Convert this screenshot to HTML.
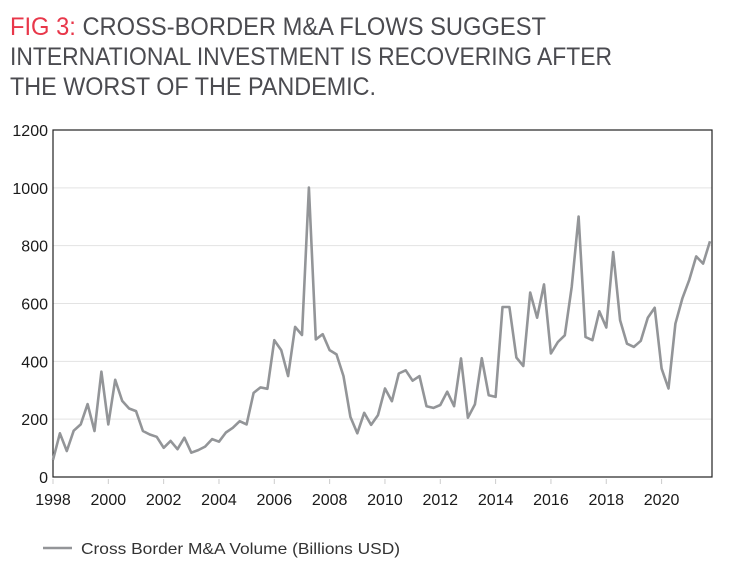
<!DOCTYPE html>
<html><head><meta charset="utf-8"><style>
html,body{margin:0;padding:0;background:#fff;width:744px;height:570px;overflow:hidden}
svg{display:block;font-family:"Liberation Sans",sans-serif}
</style></head><body>
<svg id="chart" width="744" height="570" viewBox="0 0 744 570">
<g font-size="25" fill="#4b4b50">
<text x="10" y="35" textLength="536" lengthAdjust="spacingAndGlyphs"><tspan fill="#e8374a">FIG 3:</tspan> CROSS-BORDER M&amp;A FLOWS SUGGEST</text>
<text x="10" y="65" textLength="602" lengthAdjust="spacingAndGlyphs">INTERNATIONAL INVESTMENT IS RECOVERING AFTER</text>
<text x="10" y="95" textLength="366" lengthAdjust="spacingAndGlyphs">THE WORST OF THE PANDEMIC.</text>
</g>
<g id="grid"></g>
<g id="yaxis"></g>
<g id="xaxis"></g>
<rect x="53" y="130" width="659" height="347" fill="none" stroke="#222" stroke-width="1.2"/>
<path id="line" fill="none" stroke="#939598" stroke-width="2.6" stroke-linejoin="round"/>
<g>
<line x1="43" y1="548" x2="72" y2="548" stroke="#939598" stroke-width="2.6"/>
<text x="81" y="554" font-size="16" fill="#333" textLength="319" lengthAdjust="spacingAndGlyphs">Cross Border M&amp;A Volume (Billions USD)</text>
</g>
</svg>
<script>
const values = [59,151,90,160,182,252,159,364,182,336,263,237,228,159,147,139,101,125,96,136,84,93,105,131,122,154,170,193,182,291,310,305,473,439,349,519,491,1001,476,494,439,424,349,208,151,222,180,214,306,262,358,369,333,349,245,239,249,295,245,410,205,251,411,283,277,588,588,413,384,638,551,666,427,467,490,657,901,484,473,573,517,778,542,461,450,471,551,585,375,306,530,617,682,763,738,815];
const yTicks = [0,200,400,600,800,1000,1200];
const xTickLabels = ["1998","2000","2002","2004","2006","2008","2010","2012","2014","2016","2018","2020"];
const startYear = 1998;

const L=53,R=710,T=130,B=477;
const NS="http://www.w3.org/2000/svg";
function x(i){return L+i*(R-L)/(values.length-1);}
function y(v){return B-(v/1200)*(B-T);}
const grid=document.getElementById('grid'),ya=document.getElementById('yaxis'),xa=document.getElementById('xaxis');
yTicks.forEach(t=>{
  if(t>0&&t<1200){const g=document.createElementNS(NS,'line');
  
  
  g.setAttribute('x1',L);g.setAttribute('x2',712);g.setAttribute('y1',y(t));g.setAttribute('y2',y(t));
  g.setAttribute('stroke','#e3e3e3');g.setAttribute('stroke-width','1');grid.appendChild(g);}
  const tx=document.createElementNS(NS,'text');
  
  
  tx.setAttribute('x',48);tx.setAttribute('y',y(t)+6);tx.setAttribute('text-anchor','end');
  tx.setAttribute('font-size','16');tx.setAttribute('fill','#1a1a1a');tx.textContent=t;ya.appendChild(tx);
});
xTickLabels.forEach(lab=>{
  const i=(parseInt(lab)-startYear)*4;const xx=x(i);
  const tk=document.createElementNS(NS,'line');
  
  
  tk.setAttribute('x1',xx);tk.setAttribute('x2',xx);tk.setAttribute('y1',B+2);tk.setAttribute('y2',B+7);
  tk.setAttribute('stroke','#ccc');xa.appendChild(tk);
  const tx=document.createElementNS(NS,'text');
  
  
  tx.setAttribute('x',xx);tx.setAttribute('y',505);tx.setAttribute('text-anchor','middle');
  tx.setAttribute('font-size','16');tx.setAttribute('fill','#1a1a1a');tx.textContent=lab;xa.appendChild(tx);
});
document.getElementById('line').setAttribute('d',values.map((v,i)=>(i?'L':'M')+x(i).toFixed(1)+','+y(v).toFixed(1)).join(''));
</script>
</body></html>
